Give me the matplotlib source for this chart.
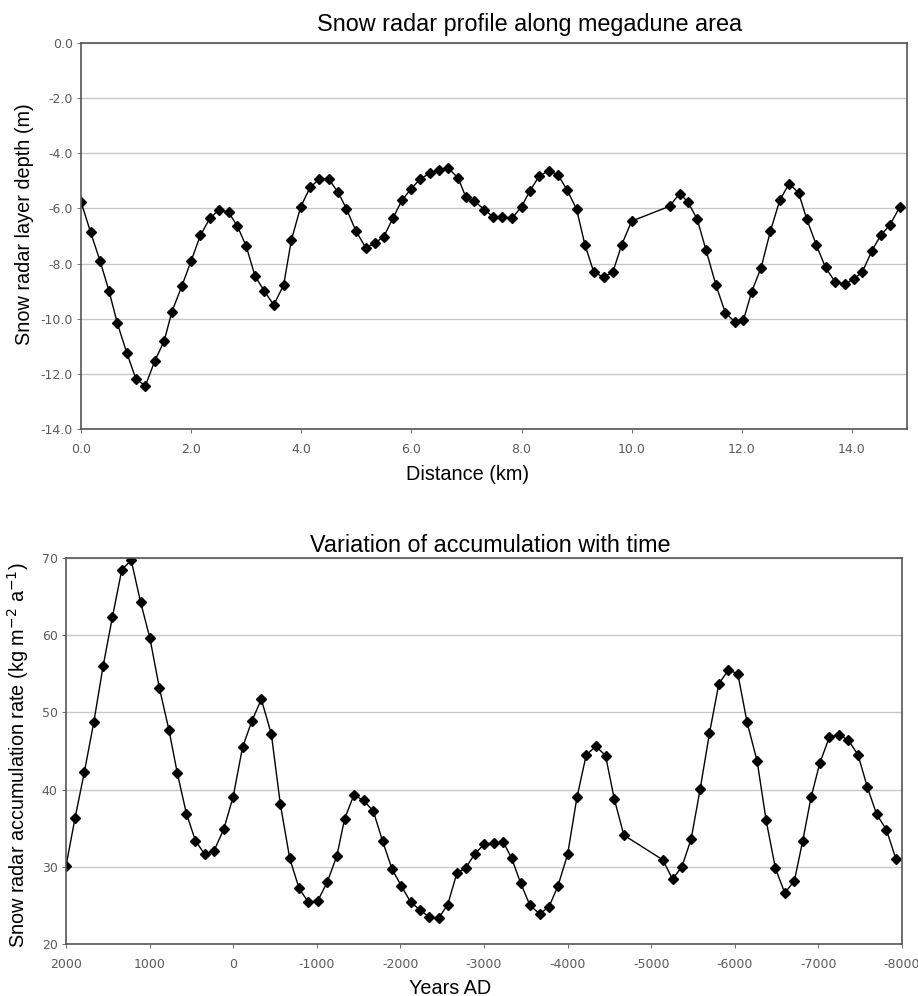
import numpy as np
import matplotlib
matplotlib.use('Agg')
import matplotlib.pyplot as plt
from matplotlib.ticker import FormatStrFormatter

plt.rcParams['font.family'] = ['Liberation Sans', 'DejaVu Sans']
plt.rcParams['axes.unicode_minus'] = False

# profile along megadune area (distance km, layer depth m)
dist_km = [0.0, 0.175, 0.345, 0.51, 0.66, 0.83, 1.0, 1.17, 1.34, 1.51, 1.65, 1.83,
           2.0, 2.17, 2.34, 2.51, 2.68, 2.84, 3.0, 3.16, 3.33, 3.5, 3.68, 3.82,
           3.99, 4.16, 4.33, 4.5, 4.67, 4.82, 4.99, 5.17, 5.33, 5.5, 5.67, 5.83,
           5.99, 6.16, 6.33, 6.5, 6.67, 6.85, 6.99, 7.14, 7.32, 7.48, 7.65, 7.83,
           8.0, 8.15, 8.32, 8.49, 8.66, 8.83, 9.0, 9.15, 9.31, 9.49, 9.66, 9.82,
           10.0, 10.69, 10.87, 11.02, 11.19, 11.35, 11.53, 11.7, 11.87, 12.03,
           12.18, 12.35, 12.52, 12.69, 12.86, 13.03, 13.18, 13.35, 13.52, 13.7,
           13.87, 14.03, 14.19, 14.36, 14.52, 14.69, 14.87]
depth_m = [-5.76, -6.87, -7.9, -9.0, -10.17, -11.23, -12.2, -12.43, -11.53, -10.81,
           -9.75, -8.82, -7.9, -6.97, -6.36, -6.04, -6.14, -6.64, -7.37, -8.45,
           -9.0, -9.5, -8.78, -7.15, -5.94, -5.24, -4.93, -4.94, -5.42, -6.01,
           -6.81, -7.42, -7.27, -7.02, -6.33, -5.7, -5.3, -4.93, -4.73, -4.59,
           -4.54, -4.9, -5.6, -5.72, -6.04, -6.3, -6.3, -6.35, -5.94, -5.37,
           -4.83, -4.63, -4.78, -5.34, -6.03, -7.31, -8.3, -8.5, -8.3, -7.31,
           -6.46, -5.92, -5.46, -5.76, -6.39, -7.51, -8.78, -9.78, -10.11, -10.05,
           -9.02, -8.15, -6.82, -5.7, -5.1, -5.43, -6.39, -7.31, -8.14, -8.68,
           -8.74, -8.57, -8.3, -7.55, -6.98, -6.6, -5.94]

# accumulation with time (years AD, kg m-2 a-1)
years = [2000, 1892, 1780, 1668, 1556, 1444, 1332, 1220, 1108, 996, 884, 768,
         668, 560, 452, 340, 228, 112, 0, -112, -224, -336, -456, -564, -676,
         -788, -900, -1012, -1124, -1240, -1332, -1444, -1560, -1676, -1788,
         -1900, -2012, -2124, -2236, -2348, -2460, -2566, -2676, -2781, -2892,
         -3000, -3120, -3231, -3331, -3438, -3550, -3665, -3777, -3884, -4000,
         -4112, -4223, -4339, -4454, -4558, -4673, -5139, -5255, -5367, -5478,
         -5586, -5697, -5809, -5924, -6036, -6147, -6267, -6375, -6486, -6598,
         -6713, -6813, -6912, -7016, -7131, -7247, -7359, -7474, -7586, -7697,
         -7813, -7928]
accum = [30.1, 36.3, 42.3, 48.7, 56.0, 62.4, 68.5, 69.7, 64.3, 59.6, 53.2, 47.7,
         42.1, 36.9, 33.4, 31.6, 32.1, 34.9, 39.1, 45.5, 48.9, 51.7, 47.2, 38.1,
         31.1, 27.2, 25.4, 25.6, 28.0, 31.4, 36.2, 39.3, 38.6, 37.2, 33.3, 29.7,
         27.5, 25.4, 24.4, 23.45, 23.4, 25.1, 29.2, 29.85, 31.7, 32.9, 33.1, 33.2,
         31.1, 27.9, 25.0, 23.9, 24.8, 27.5, 31.6, 39.0, 44.5, 45.6, 44.4, 38.8,
         34.1, 30.9, 28.4, 30.0, 33.6, 40.1, 47.3, 53.7, 55.5, 55.0, 48.7, 43.7,
         36.0, 29.8, 26.6, 28.2, 33.4, 39.0, 43.4, 46.8, 47.1, 46.4, 44.5, 40.3,
         36.8, 34.8, 31.0]

W, H = 918, 996
fig = plt.figure(figsize=(W/100, H/100), dpi=100)

def style(ax):
    ax.grid(axis='y', color='#c8c8c8', lw=1.0)
    ax.set_axisbelow(True)
    for s in ax.spines.values():
        s.set_color('#555555')
        s.set_linewidth(1.2)
    ax.tick_params(colors='#5a5a5a', labelsize=9, length=3, width=0.6)
    ax.tick_params(axis='x', pad=7)
    ax.tick_params(axis='y', pad=3)
    for lab in ax.get_xticklabels() + ax.get_yticklabels():
        lab.set_family('DejaVu Sans')

# top panel
ax1 = fig.add_axes([81/W, 1-429/H, 826/W, 386/H])
ax1.plot(dist_km, depth_m, color='black', lw=1.0, marker='D', ms=5.5)
ax1.set_xlim(0, 15)
ax1.set_ylim(-14, 0)
ax1.set_xticks(np.arange(0, 15, 2.0))
ax1.set_yticks(np.arange(-14, 0.1, 2.0))
ax1.xaxis.set_major_formatter(FormatStrFormatter('%.1f'))
ax1.yaxis.set_major_formatter(FormatStrFormatter('%.1f'))
style(ax1)
fig.text(530/W, 1-25/H, 'Snow radar profile along megadune area',
         ha='center', va='center', fontsize=16.8)
fig.text(468/W, 1-475/H, 'Distance (km)', ha='center', va='center', fontsize=14.3)
fig.text(25/W, 1-224/H, 'Snow radar layer depth (m)', ha='center', va='center',
         rotation=90, fontsize=14.3)

# bottom panel
ax2 = fig.add_axes([66/W, 1-944/H, 836/W, 386/H])
ax2.plot(years, accum, color='black', lw=1.0, marker='D', ms=5.5)
ax2.set_xlim(2000, -8000)
ax2.set_ylim(20, 70)
ax2.set_xticks(np.arange(2000, -8001, -1000))
ax2.set_yticks(np.arange(20, 71, 10))
style(ax2)
fig.text(490/W, 1-545/H, 'Variation of accumulation with time',
         ha='center', va='center', fontsize=16.8)
fig.text(450/W, 1-988/H, 'Years AD', ha='center', va='center', fontsize=14.3)
fig.text(18/W, 1-755/H, 'Snow radar accumulation rate (kg m$^{-2}$ a$^{-1}$)',
         ha='center', va='center', rotation=90, fontsize=14.3)

fig.savefig('out.png', dpi=100)
